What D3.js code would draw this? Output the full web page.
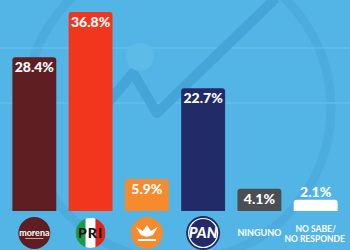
<!DOCTYPE html>
<html>
<head>
<meta charset="UTF-8">
<script src="https://d3js.org/d3.v7.min.js"></script>
<style>
  body { margin: 0; background: #52b5e5; }
  svg { display: block; font-family: Lato, "Open Sans", sans-serif; }
</style>
</head>
<body>
<div id="chart"></div>
<script>
// data
var parties = ["MORENA", "PRI", "MC", "PAN", "NINGUNO", "NO SABE/NO RESPONDE"];
var values = [28.4, 36.8, 5.9, 22.7, 4.1, 2.1];
var barColors = ["#5f1f22", "#f2351d", "#f68a2c", "#232a68", "#4b4e52", "#ffffff"];

var width = 350, height = 250;
var baseY = 211;

var svg = d3.select("#chart").append("svg")
    .attr("width", width)
    .attr("height", height);

// background
svg.append("rect").attr("width", width).attr("height", height).attr("fill", "#52b5e5");

// faint decoration behind bars
var deco = svg.append("g");
deco.append("circle")
    .attr("cx", 178).attr("cy", 108).attr("r", 153)
    .attr("fill", "none").attr("stroke", "#48a8da").attr("stroke-width", 9).attr("opacity", 0.7);
[48, 103].forEach(function(gy) {
  deco.append("line").attr("x1", 0).attr("x2", width).attr("y1", gy).attr("y2", gy)
      .attr("stroke", "#6cc2ec").attr("stroke-width", 1);
});
deco.append("path")
    .attr("d", "M100,112 L133,73 L157,113 L276,-2")
    .attr("fill", "none").attr("stroke", "#45a4d8").attr("stroke-width", 10)
    .attr("stroke-linejoin", "round");
deco.append("circle").attr("cx", 140).attr("cy", 57).attr("r", 14).attr("fill", "#5dbbe8");

// scales
var x = d3.scaleBand().domain(parties).range([0, width]).padding(0.22);
var y = d3.scaleLinear().domain([0, 39]).range([baseY, 0]);

function topRounded(x0, y0, w, h, r) {
  return "M" + x0 + "," + (y0 + h) +
    "V" + (y0 + r) + "Q" + x0 + "," + y0 + " " + (x0 + r) + "," + y0 +
    "H" + (x0 + w - r) + "Q" + (x0 + w) + "," + y0 + " " + (x0 + w) + "," + (y0 + r) +
    "V" + (y0 + h) + "Z";
}

// bars
svg.selectAll(".bar")
  .data(parties)
  .enter().append("path")
    .attr("class", "bar")
    .attr("fill", function(d, i) { return barColors[i]; })
    .attr("d", function(d, i) {
      return topRounded(x(d), y(values[i]), x.bandwidth(), baseY - y(values[i]), 3);
    });

// value labels
svg.selectAll(".val")
  .data(parties)
  .enter().append("text")
    .attr("class", "val")
    .attr("x", function(d) { return x(d) + x.bandwidth() / 2; })
    .attr("y", function(d, i) {
      return i == 5 ? y(values[i]) - 3 : y(values[i]) + 15;
    })
    .attr("text-anchor", "middle")
    .attr("fill", "#ffffff")
    .attr("font-weight", "900")
    .attr("font-size", 14)
    .text(function(d, i) { return values[i].toFixed(1) + "%"; });

// bottom logos / labels
var ly = 233;
function cx(name) { return x(name) + x.bandwidth() / 2; }

// morena
var g1 = svg.append("g").attr("transform", "translate(" + cx("MORENA") + "," + ly + ")");
g1.append("circle").attr("r", 16).attr("fill", "#5f1f22");
g1.append("text").attr("y", 2.5).attr("text-anchor", "middle").attr("fill", "#fff")
  .attr("font-size", 9).attr("font-weight", "bold").text("morena");
g1.append("rect").attr("x", -9).attr("y", 5).attr("width", 18).attr("height", 1).attr("fill", "#c9a8a8");

// PRI
var g2 = svg.append("g").attr("transform", "translate(" + cx("PRI") + "," + ly + ")");
g2.append("clipPath").attr("id", "priClip").append("circle").attr("r", 15);
var stripes = g2.append("g").attr("clip-path", "url(#priClip)");
stripes.append("rect").attr("x", -15).attr("y", -15).attr("width", 10).attr("height", 30).attr("fill", "#1a9b45");
stripes.append("rect").attr("x", -5).attr("y", -15).attr("width", 10).attr("height", 30).attr("fill", "#ffffff");
stripes.append("rect").attr("x", 5).attr("y", -15).attr("width", 10).attr("height", 30).attr("fill", "#e2231a");
g2.append("text").attr("y", 5).attr("text-anchor", "middle").attr("fill", "#111")
  .attr("font-size", 14).attr("font-weight", "900").attr("letter-spacing", 1).text("PRI");

// MC
var g3 = svg.append("g").attr("transform", "translate(" + cx("MC") + "," + ly + ")");
g3.append("circle").attr("r", 16).attr("fill", "#f68a2c");
g3.append("path").attr("d", "M-11,-6 L-4,-2 L0,-8 L4,-2 L11,-6 L6,2 L0,4 L-6,2 Z").attr("fill", "#fff");
g3.append("rect").attr("x", -9).attr("y", 6).attr("width", 18).attr("height", 2).attr("fill", "#fff");

// PAN
var g4 = svg.append("g").attr("transform", "translate(" + cx("PAN") + "," + ly + ")");
g4.append("circle").attr("r", 17).attr("fill", "#232a68");
g4.append("circle").attr("r", 14.5).attr("fill", "none").attr("stroke", "#fff").attr("stroke-width", 1.2);
g4.append("text").attr("y", 5).attr("text-anchor", "middle").attr("fill", "#fff")
  .attr("font-size", 15).attr("font-weight", "900").attr("font-style", "italic").text("PAN");

// text labels
svg.append("text").attr("x", cx("NINGUNO")).attr("y", ly + 3).attr("text-anchor", "middle")
  .attr("fill", "#fff").attr("font-size", 9).attr("font-weight", "bold").text("NINGUNO");
var t6 = svg.append("text").attr("x", cx("NO SABE/NO RESPONDE")).attr("text-anchor", "middle")
  .attr("fill", "#fff").attr("font-size", 8.5).attr("font-weight", "bold");
t6.append("tspan").attr("x", cx("NO SABE/NO RESPONDE")).attr("y", ly - 1).text("NO SABE/");
t6.append("tspan").attr("x", cx("NO SABE/NO RESPONDE") - 1).attr("y", ly + 8.5).text("NO RESPONDE");
</script>
</body>
</html>
